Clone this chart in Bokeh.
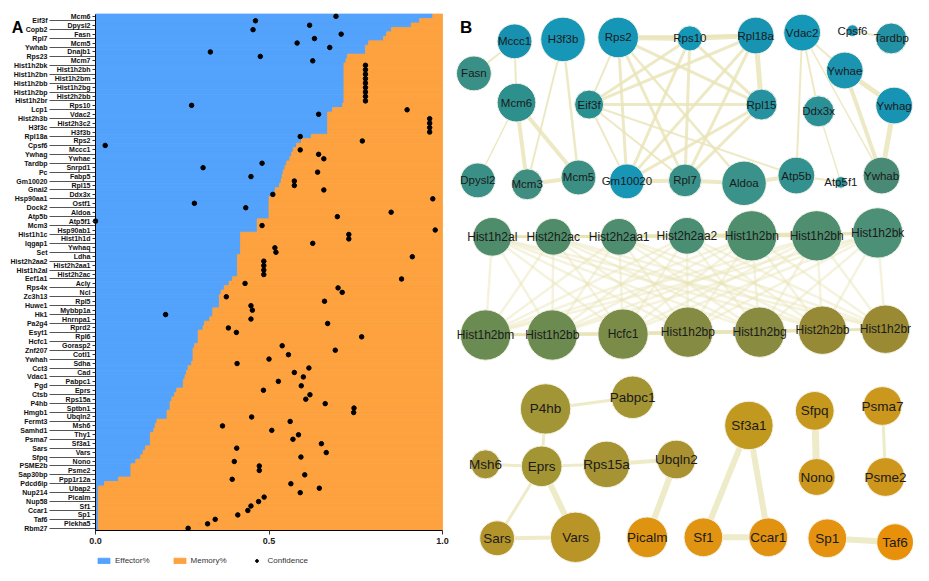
import numpy as np
from bokeh.plotting import figure
from bokeh.models import (Range1d, LinearAxis, FixedTicker, Legend, LegendItem, Label,
                          PrintfTickFormatter, ColumnDataSource)
from bokeh.layouts import row
from bokeh.embed import file_html
from bokeh.resources import INLINE
from bokeh.core.properties import value

# ---------------- Panel A data ----------------
genes = ["Mcm6", "Eif3f", "Dpysl2", "Copb2", "Fasn", "Rpl7", "Mcm5", "Ywhab", "Dnajb1", "Rps23",
         "Mcm7", "Hist1h2bk", "Hist1h2bh", "Hist1h2bn", "Hist1h2bm", "Hist1h2bb", "Hist1h2bg", "Hist1h2bp", "Hist2h2bb", "Hist1h2br",
         "Rps10", "Lcp1", "Vdac2", "Hist2h3b", "Hist2h3c2", "H3f3c", "H3f3b", "Rpl18a", "Rps2", "Cpsf6",
         "Mccc1", "Ywhag", "Ywhae", "Tardbp", "Snrpd1", "Pc", "Fabp5", "Gm10020", "Rpl15", "Gnai2",
         "Ddx3x", "Hsp90aa1", "Ostf1", "Dock2", "Aldoa", "Atp5b", "Atp5f1", "Mcm3", "Hsp90ab1", "Hist1h1c",
         "Hist1h1d", "Iqgap1", "Ywhaq", "Set", "Ldha", "Hist2h2aa2", "Hist2h2aa1", "Hist1h2al", "Hist2h2ac", "Eef1a1",
         "Acly", "Rps4x", "Ncl", "Zc3h13", "Rpl5", "Huwe1", "Mybbp1a", "Hk1", "Hnrnpa1", "Pa2g4",
         "Rprd2", "Esyt1", "Rpl6", "Hcfc1", "Gorasp2", "Znf207", "Cotl1", "Ywhah", "Sdha", "Cct3",
         "Cad", "Vdac1", "Pabpc1", "Pgd", "Eprs", "Ctsb", "Rps15a", "P4hb", "Sptbn1", "Hmgb1",
         "Ubqln2", "Fermt3", "Msh6", "Samhd1", "Thy1", "Psma7", "Sf3a1", "Sars", "Vars", "Sfpq",
         "Nono", "PSME2b", "Psme2", "Sap30bp", "Ppp1r12a", "Pdcd6ip", "Ubap2", "Nup214", "Picalm", "Nup58",
         "Sf1", "Ccar1", "Sp1", "Taf6", "Plekha5", "Rbm27"]

effector = [0.972, 0.934, 0.91, 0.853, 0.839, 0.83, 0.787, 0.778, 0.778, 0.726,
            0.722, 0.716, 0.716, 0.716, 0.716, 0.716, 0.716, 0.716, 0.716, 0.716,
            0.712, 0.683, 0.669, 0.669, 0.669, 0.669, 0.669, 0.622, 0.593, 0.579,
            0.57, 0.565, 0.56, 0.551, 0.546, 0.541, 0.538, 0.535, 0.53, 0.518,
            0.515, 0.5, 0.5, 0.5, 0.5, 0.5, 0.466, 0.466, 0.466, 0.418,
            0.418, 0.418, 0.418, 0.418, 0.409, 0.409, 0.409, 0.409, 0.409, 0.395,
            0.385, 0.371, 0.362, 0.357, 0.357, 0.357, 0.338, 0.338, 0.329, 0.314,
            0.31, 0.296, 0.296, 0.296, 0.286, 0.281, 0.281, 0.281, 0.277, 0.267,
            0.262, 0.258, 0.253, 0.253, 0.234, 0.228, 0.22, 0.215, 0.215, 0.206,
            0.206, 0.177, 0.172, 0.168, 0.158, 0.158, 0.158, 0.144, 0.137, 0.13,
            0.116, 0.102, 0.102, 0.102, 0.066, 0.026, 0.008, 0.008, 0.008, 0.008,
            0.008, 0.008, 0.008, 0.008, 0.008, 0.008]

confidence = [0.693, 0.461, 0.617, 0.454, 0.708, 0.631, 0.581, 0.675, 0.331, 0.475,
              0.626, 0.778, 0.778, 0.778, 0.778, 0.778, 0.778, 0.778, 0.778, 0.778,
              0.277, 0.898, 0.643, 0.963, 0.963, 0.963, 0.963, 0.59, 0.769, 0.028,
              0.59, 0.643, 0.658, 0.48, 0.31, 0.64, 0.448, 0.573, 0.573, 0.658,
              0.511, 0.972, 0.285, 0.433, 0.852, 0.697, 0.0, 0.48, 0.979, 0.73,
              0.73, 0.626, 0.517, 0.52, 0.913, 0.485, 0.485, 0.485, 0.485, 0.882,
              0.431, 0.699, 0.711, 0.377, 0.66, 0.448, 0.452, 0.202, 0.448, 0.669,
              0.383, 0.406, 0.767, float("nan"), 0.538, 0.691, 0.556, 0.5, 0.408, 0.615,
              0.573, 0.599, 0.527, 0.593, 0.484, 0.618, 0.606, 0.662, 0.745, 0.744,
              0.45, 0.561, 0.366, 0.508, 0.585, 0.569, 0.651, 0.407, 0.665, 0.592,
              0.4, 0.472, 0.472, 0.603, 0.394, 0.563, 0.645, 0.59, 0.486, 0.47,
              0.448, 0.439, 0.41, 0.345, 0.323, 0.267]

x_ticks = [0.0, 0.5, 1.0]
legend_labels = ["Effector%", "Memory%", "Confidence"]

BLUE = "#53a2fb"
ORANGE = "#fda23f"
FONT = "Liberation Sans"

n = len(genes)
rows_idx = list(range(n))
srcA = ColumnDataSource(dict(row=rows_idx, gene=genes, eff=effector,
                             conf=np.array(confidence, dtype=float)))

# Panel A: the frame fills the figure; axes are pinned at x=0 / bottom row
W_A, H_A = 455, 565
LEFT_PX, RIGHT_PX = 95, 13          # room for the gene labels / right margin
TOP_PX, BARS_BOTTOM_PX = 13.6, 530  # where the bar stack starts / ends
unit_px = W_A - LEFT_PX - RIGHT_PX
row_px = (BARS_BOTTOM_PX - TOP_PX) / n
x_lo, x_hi = -LEFT_PX / unit_px, 1 + RIGHT_PX / unit_px
y_top = -0.5 - TOP_PX / row_px
y_bot = n - 0.5 + (H_A - BARS_BOTTOM_PX) / row_px

pA = figure(width=W_A, height=H_A, output_backend="svg", toolbar_location=None,
            x_range=Range1d(x_lo, x_hi), y_range=Range1d(y_bot, y_top),
            x_axis_location=None, y_axis_location=None, min_border=0)
pA.outline_line_color = None
pA.grid.visible = False

r_eff = pA.hbar(y="row", left=0, right="eff", height=1.03, fill_color=BLUE, line_color=BLUE,
                line_width=0.8, source=srcA)
r_mem = pA.hbar(y="row", left="eff", right=1, height=1.03, fill_color=ORANGE, line_color=ORANGE,
                line_width=0.8, source=srcA)
r_conf = pA.scatter(x="conf", y="row", size=4.5, marker="circle", fill_color="black",
                    line_color="black", source=srcA)

even_rows = [i for i in rows_idx if i % 2 == 0]
odd_rows = [i for i in rows_idx if i % 2 == 1]

inner = LinearAxis(ticker=FixedTicker(ticks=even_rows, minor_ticks=[]),
                   major_label_overrides={i: genes[i] for i in even_rows},
                   bounds=(-0.5, n - 0.5), fixed_location=0)
inner.major_tick_out = 3
inner.major_tick_in = 0
inner.major_label_standoff = 2
inner.axis_line_color = "black"
inner.major_tick_line_color = "#333333"
inner.minor_tick_line_color = None
inner.major_label_text_font = FONT
inner.major_label_text_font_size = "7px"
inner.major_label_text_font_style = "bold"
inner.major_label_text_color = "#111111"

outer = LinearAxis(ticker=FixedTicker(ticks=odd_rows, minor_ticks=[]),
                   major_label_overrides={i: genes[i] for i in odd_rows},
                   bounds=(-0.5, n - 0.5), fixed_location=0)
outer.major_tick_out = 46
outer.major_tick_in = 0
outer.major_label_standoff = 2
outer.axis_line_color = None
outer.major_tick_line_color = "#555555"
outer.minor_tick_line_color = None
outer.major_label_text_font = FONT
outer.major_label_text_font_size = "7px"
outer.major_label_text_font_style = "bold"
outer.major_label_text_color = "#111111"

pA.add_layout(outer, "left")
pA.add_layout(inner, "left")

xax = LinearAxis(ticker=FixedTicker(ticks=x_ticks, minor_ticks=[]),
                 formatter=PrintfTickFormatter(format="%.1f"),
                 fixed_location=n - 0.5, bounds=(0, 1))
xax.axis_line_color = "black"
xax.major_tick_line_color = "#333333"
xax.major_tick_out = 4
xax.major_tick_in = 0
xax.minor_tick_line_color = None
xax.major_label_standoff = 3
xax.major_label_text_font = FONT
xax.major_label_text_font_size = "9px"
xax.major_label_text_font_style = "bold"
xax.major_label_text_color = "#222222"
pA.add_layout(xax, "below")

legA = Legend(items=[LegendItem(label=legend_labels[0], renderers=[r_eff]),
                     LegendItem(label=legend_labels[1], renderers=[r_mem]),
                     LegendItem(label=legend_labels[2], renderers=[r_conf])],
              orientation="horizontal", location=(LEFT_PX + 1, 0))
legA.glyph_width = 15
legA.glyph_height = 7
legA.label_height = 8
legA.label_standoff = 4
legA.spacing = 22
legA.padding = 0
legA.margin = 0
legA.border_line_color = None
legA.background_fill_alpha = 0
legA.label_text_font = FONT
legA.label_text_font_size = "8px"
legA.label_text_color = "#333333"
pA.add_layout(legA)

pA.add_layout(Label(x=x_lo + 17 / unit_px, y=2.55, text="A", text_font=FONT, text_font_size="16px",
                    text_font_style="bold", text_align="center", text_baseline="middle",
                    text_color="black"))

# ---------------- Panel B data (network layout) ----------------
node_names = ["Mccc1", "H3f3b", "Rps2", "Rps10", "Rpl18a", "Vdac2", "Cpsf6", "Tardbp",
              "Fasn", "Ywhae", "Mcm6", "Eif3f", "Rpl15", "Ddx3x", "Ywhag",
              "Dpysl2", "Mcm3", "Mcm5", "Gm10020", "Rpl7", "Aldoa", "Atp5b", "Atp5f1", "Ywhab",
              "Hist1h2al", "Hist2h2ac", "Hist2h2aa1", "Hist2h2aa2", "Hist1h2bn", "Hist1h2bh", "Hist1h2bk",
              "Hist1h2bm", "Hist1h2bb", "Hcfc1", "Hist1h2bp", "Hist1h2bg", "Hist2h2bb", "Hist1h2br",
              "P4hb", "Pabpc1", "Sf3a1", "Sfpq", "Psma7",
              "Msh6", "Eprs", "Rps15a", "Ubqln2", "Nono", "Psme2",
              "Sars", "Vars", "Picalm", "Sf1", "Ccar1", "Sp1", "Taf6"]
node_x = [520, 570, 627, 701, 769, 817, 869, 909,
          478, 861, 522, 597, 775, 834, 912,
          482, 533, 586, 636, 696, 757, 811, 857, 899,
          497, 560, 628, 698, 765, 832, 895,
          490, 559, 632, 699, 773, 838, 903,
          552, 642, 762, 830, 900,
          490, 548, 615, 687, 832, 903,
          502, 583, 657, 715, 782, 843, 913]
node_y = [42, 40, 38, 39, 36, 33, 31, 39,
          75, 72, 105, 107, 107, 114, 108,
          185, 189, 182, 186, 185, 188, 180, 187, 180,
          243, 243, 243, 242, 242, 242, 239,
          344, 344, 343, 341, 341, 339, 338,
          420, 408, 437, 422, 417,
          477, 479, 477, 472, 490, 490,
          553, 552, 552, 552, 552, 553, 557]
node_r = [18, 23, 21, 13, 19, 19, 6, 16,
          18, 19, 20, 15, 16, 16, 19,
          18, 16, 18, 18, 17, 23, 19, 6, 19,
          20, 19, 19, 19, 26, 26, 26,
          26, 26, 26, 26, 26, 25, 25,
          26, 22, 25, 20, 20,
          15, 21, 24, 20, 19, 20,
          18, 26, 21, 20, 20, 20, 19]
node_color = ["#1890b0", "#1797b7", "#1596b6", "#1597b7", "#1894b2", "#1597b7", "#1c93ae", "#2392a4",
              "#3a9086", "#1a94b1", "#2e908d", "#2a9192", "#2692a0", "#2b9197", "#1794b3",
              "#3a9087", "#408e82", "#3b8f84", "#1896b6", "#399088", "#3a928a", "#33928f", "#2a9198", "#488a76",
              "#4f8c6c", "#508c6a", "#4e8d70", "#4a8e74", "#508f6e", "#4f8f70", "#4d9078",
              "#6a8b52", "#6c8b50", "#7b8b48", "#858b42", "#888b40", "#968a36", "#9a8a34",
              "#a29535", "#a39434", "#c2991f", "#c7981e", "#cb971c",
              "#a59234", "#a39534", "#a59334", "#aa9232", "#cb971c", "#ce961a",
              "#b3942a", "#b99527", "#df9411", "#e19411", "#e09210", "#e59210", "#e89009"]
node_font = (["11.5px"] * 24) + (["12px"] * 14) + (["13.5px"] * 18)

top_edges = [("Fasn", "Mccc1", 2), ("Mccc1", "Mcm6", 2), ("Mcm6", "Mcm3", 4), ("Mcm6", "Mcm5", 4),
             ("Mcm3", "Mcm5", 4), ("H3f3b", "Mcm3", 2), ("H3f3b", "Mcm5", 2.5), ("Dpysl2", "Mcm6", 1.5),
             ("Rps2", "Rps10", 5), ("Rps2", "Rpl18a", 3), ("Rps2", "Eif3f", 2), ("Rps2", "Gm10020", 3),
             ("Rps2", "Rpl7", 3), ("Rps2", "Rpl15", 3), ("Rps2", "Aldoa", 2.5),
             ("Eif3f", "Rps10", 3), ("Eif3f", "Rpl18a", 3), ("Eif3f", "Rpl15", 3), ("Eif3f", "Gm10020", 2),
             ("Eif3f", "Rpl7", 2), ("Eif3f", "Atp5b", 2),
             ("Rps10", "Rpl18a", 5), ("Rps10", "Gm10020", 3), ("Rps10", "Rpl7", 3), ("Rps10", "Rpl15", 3),
             ("Rpl18a", "Rpl15", 5), ("Rpl18a", "Gm10020", 3), ("Rpl18a", "Rpl7", 3),
             ("Rpl15", "Gm10020", 3), ("Rpl15", "Rpl7", 3),
             ("Gm10020", "Rpl7", 4), ("Rpl7", "Aldoa", 4), ("Aldoa", "Atp5b", 4), ("Atp5b", "Atp5f1", 2),
             ("Vdac2", "Atp5b", 2), ("Vdac2", "Ddx3x", 2), ("Vdac2", "Ywhab", 1.5), ("Vdac2", "Ywhae", 2),
             ("Ddx3x", "Atp5f1", 1.5), ("Cpsf6", "Tardbp", 2),
             ("Ywhae", "Ywhag", 5), ("Ywhae", "Ywhab", 4), ("Ywhag", "Ywhab", 5)]
histone_group = ["Hist1h2al", "Hist2h2ac", "Hist2h2aa1", "Hist2h2aa2", "Hist1h2bn", "Hist1h2bh", "Hist1h2bk",
                 "Hist1h2bm", "Hist1h2bb", "Hcfc1", "Hist1h2bp", "Hist1h2bg", "Hist2h2bb", "Hist1h2br"]
bottom_edges = [("P4hb", "Pabpc1", 3), ("P4hb", "Eprs", 3), ("Msh6", "Eprs", 3), ("Eprs", "Rps15a", 3),
                ("Rps15a", "Ubqln2", 4), ("Ubqln2", "Picalm", 6), ("Eprs", "Sars", 3), ("Eprs", "Vars", 6),
                ("Sars", "Vars", 4), ("Sf3a1", "Sf1", 6), ("Sf3a1", "Ccar1", 6), ("Sf1", "Ccar1", 6),
                ("Sfpq", "Nono", 7), ("Psma7", "Psme2", 3), ("Sp1", "Taf6", 6)]

pos = {nm: (x, y) for nm, x, y in zip(node_names, node_x, node_y)}


def edge_source(edges):
    return ColumnDataSource(dict(
        x0=[pos[a][0] for a, b, w in edges], y0=[pos[a][1] for a, b, w in edges],
        x1=[pos[b][0] for a, b, w in edges], y1=[pos[b][1] for a, b, w in edges],
        w=[w for a, b, w in edges]))


hist_edges = []
for i, a in enumerate(histone_group):
    for b in histone_group[i + 1:]:
        hist_edges.append((a, b, 2.5))

pB = figure(width=458, height=565, output_backend="svg", toolbar_location=None,
            x_range=Range1d(459, 932), y_range=Range1d(581, 0),
            x_axis_location=None, y_axis_location=None, min_border=0)
pB.outline_line_color = None
pB.grid.visible = False

EDGE = "#e8e4b6"
pB.segment(x0="x0", y0="y0", x1="x1", y1="y1", line_width="w", line_color=EDGE, line_alpha=0.8,
           line_cap="round", source=edge_source(top_edges))
pB.segment(x0="x0", y0="y0", x1="x1", y1="y1", line_width="w", line_color=EDGE, line_alpha=0.45,
           line_cap="round", source=edge_source(hist_edges))
pB.segment(x0="x0", y0="y0", x1="x1", y1="y1", line_width="w", line_color=EDGE, line_alpha=0.75,
           line_cap="round", source=edge_source(bottom_edges))

srcB = ColumnDataSource(dict(name=node_names, x=node_x, y=node_y, r=node_r, color=node_color, fs=node_font))
pB.circle(x="x", y="y", radius="r", fill_color="color", line_color="#f4f2e4", line_width=1, source=srcB)
pB.text(x="x", y="y", text="name", text_align="center", text_baseline="middle",
        text_font=value(FONT), text_font_size="fs", text_color="#1a1a1a", source=srcB)

pB.add_layout(Label(x=470, y=28, text="B", text_font=FONT, text_font_size="17px",
                    text_font_style="bold", text_align="center", text_baseline="middle",
                    text_color="black"))

layout = row(pA, pB)
open("out.html", "w").write(file_html(layout, INLINE))
